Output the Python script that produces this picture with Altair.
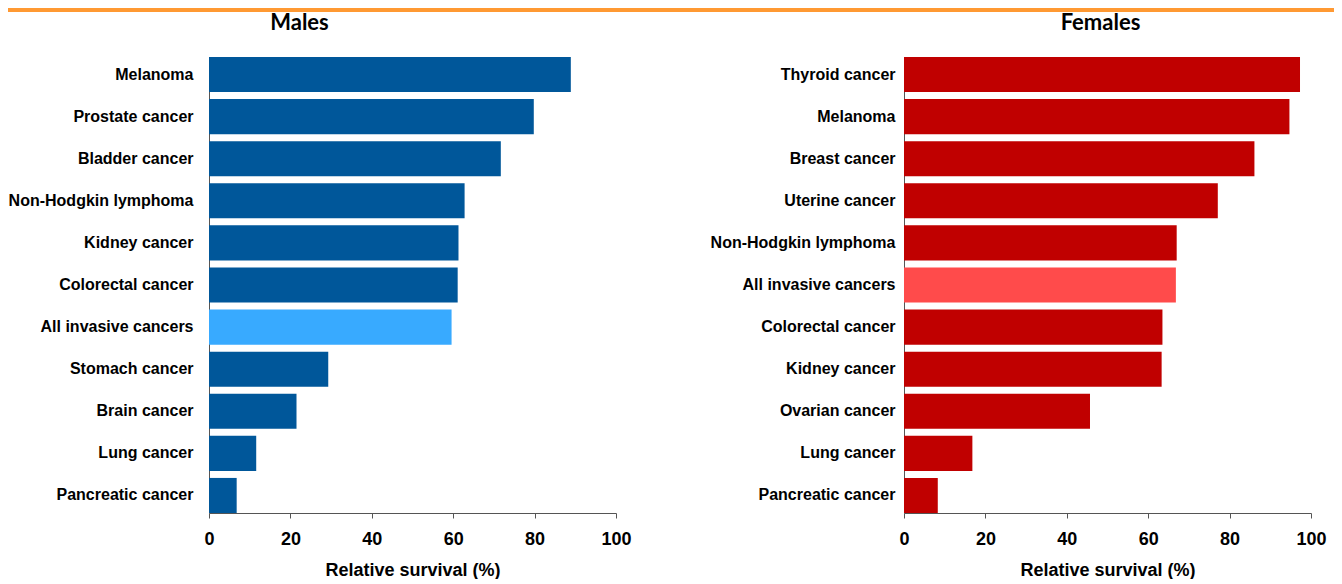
import altair as alt
import pandas as pd

male_sites = ["Melanoma", "Prostate cancer", "Bladder cancer", "Non-Hodgkin lymphoma",
              "Kidney cancer", "Colorectal cancer", "All invasive cancers", "Stomach cancer",
              "Brain cancer", "Lung cancer", "Pancreatic cancer"]
male_values = [88.9, 79.8, 71.7, 62.8, 61.3, 61.1, 59.6, 29.3, 21.5, 11.6, 6.8]

female_sites = ["Thyroid cancer", "Melanoma", "Breast cancer", "Uterine cancer",
                "Non-Hodgkin lymphoma", "All invasive cancers", "Colorectal cancer",
                "Kidney cancer", "Ovarian cancer", "Lung cancer", "Pancreatic cancer"]
female_values = [97.3, 94.7, 86.1, 77.1, 67.0, 66.8, 63.5, 63.3, 45.7, 16.8, 8.3]

x_ticks = [0, 20, 40, 60, 80, 100]
HIGHLIGHT = "All invasive cancers"


def panel(sites, values, title, base, hl, dx, label_pad):
    df = pd.DataFrame({
        "site": sites,
        "value": values,
        "kind": ["hl" if s == HIGHLIGHT else "base" for s in sites],
    })
    return alt.Chart(
        df,
        title=alt.TitleParams(title, font="Lato", fontSize=22, fontWeight="bold",
                              color="black", anchor="middle", frame="group",
                              dx=dx, offset=22),
    ).mark_bar().encode(
        y=alt.Y("site:N", sort=sites, title=None,
                scale=alt.Scale(paddingInner=0.167, paddingOuter=0),
                axis=alt.Axis(ticks=False, labelFont="Liberation Sans", labelFontSize=16,
                              labelFontWeight="bold", labelColor="black",
                              labelPadding=label_pad, labelLimit=400,
                              domainColor="#555555", domainWidth=1)),
        x=alt.X("value:Q", title="Relative survival (%)",
                scale=alt.Scale(domain=[0, 100], nice=False),
                axis=alt.Axis(values=x_ticks, grid=False, tickSize=5, tickColor="#555555",
                              domainColor="#555555", labelFont="Liberation Sans",
                              labelFontSize=18, labelFontWeight="bold", labelColor="black",
                              labelPadding=12, titleFont="Liberation Sans", titleFontSize=18,
                              titleFontWeight="bold", titleColor="black", titlePadding=13,
                              labelFlush=False)),
        color=alt.condition(alt.datum.kind == "hl", alt.value(hl), alt.value(base)),
    ).properties(width=407, height=456)


left = panel(male_sites, male_values, "Males", "#00579A", "#38AAFF", -113, 16)
right = panel(female_sites, female_values, "Females", "#C00000", "#FF4B4B", -7, 9)

X0 = 201
strip = alt.Chart(pd.DataFrame({"a": [0]})).mark_rect(color="#FF9933").encode(
    x=alt.value(-X0), x2=alt.value(1326 - X0), y=alt.value(0), y2=alt.value(4)
).properties(width=10, height=4)

chart = alt.vconcat(
    strip,
    alt.hconcat(left, right, spacing=78),
    spacing=0,
).properties(
    padding={"left": 0, "top": 0, "right": 0, "bottom": 0}
).configure_view(stroke=None)

chart.save("out.html", embed_options={"renderer": "svg", "actions": False})
